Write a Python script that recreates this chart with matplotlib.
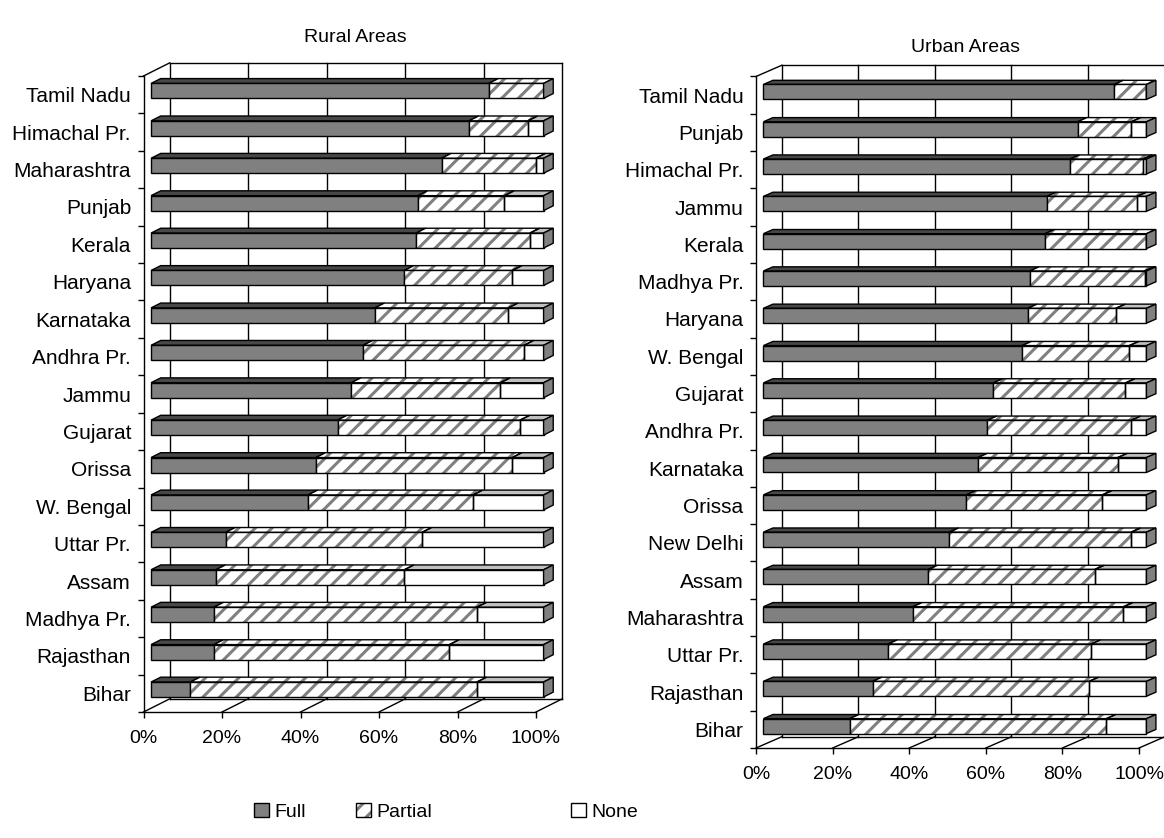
import numpy as np
import matplotlib
matplotlib.use('Agg')
import matplotlib.pyplot as plt
from matplotlib.patches import Polygon, Patch

plt.rcParams['font.family'] = ['Liberation Sans', 'DejaVu Sans']
plt.rcParams['hatch.linewidth'] = 2.2

#農村部
rural_states = ['Tamil Nadu', 'Himachal Pr.', 'Maharashtra', 'Punjab', 'Kerala',
                'Haryana', 'Karnataka', 'Andhra Pr.', 'Jammu', 'Gujarat', 'Orissa',
                'W. Bengal', 'Uttar Pr.', 'Assam', 'Madhya Pr.', 'Rajasthan', 'Bihar']
rural_full = [86, 81, 74, 68, 67.5, 64.5, 57, 54, 51, 47.5, 42, 40, 19, 16.5, 16, 16, 10]
rural_partial = [14, 15, 24, 22, 29, 27.5, 34, 41, 38, 46.5, 50, 42, 50, 48, 67, 60, 73]
rural_none = [0, 4, 2, 10, 3.5, 8, 9, 5, 11, 6, 8, 18, 31, 35.5, 17, 24, 17]

#都市部
urban_states = ['Tamil Nadu', 'Punjab', 'Himachal Pr.', 'Jammu', 'Kerala', 'Madhya Pr.',
                'Haryana', 'W. Bengal', 'Gujarat', 'Andhra Pr.', 'Karnataka', 'Orissa',
                'New Delhi', 'Assam', 'Maharashtra', 'Uttar Pr.', 'Rajasthan', 'Bihar']
urban_full = [91.5, 82, 80, 74, 73.5, 69.5, 69, 67.5, 60, 58.5, 56, 53, 48.5, 43, 39, 32.5, 28.5, 22.5]
urban_partial = [8.5, 14, 19, 23.5, 26.5, 30, 23, 28, 34.5, 37.5, 36.5, 35.5, 47.5, 43.5, 55, 53, 56.5, 67]
urban_none = [0, 4, 1, 2.5, 0, 0.5, 8, 4.5, 5.5, 4, 7.5, 11.5, 4, 13.5, 6, 14.5, 15, 10.5]

GRAY = '#808080'
HATCH = '//'
F, B, H = 0.29, 0.66, 0.4   # 棒の手前/奥の深さ比率, 棒の太さ


def face(ax, pts, **kw):
    ax.add_patch(Polygon(pts, closed=True, clip_on=False, **kw))


#擬似3D横棒グラフを描く
def draw_panel(ax, states, full, partial, none, dx, dy):
    n = len(states)
    ypos = np.arange(n)[::-1]
    ax.set_xlim(0, 100)
    ax.set_ylim(-0.5, n - 0.5)

    top = n - 0.5 + dy
    bot = -0.5 + dy
    lk = dict(color='black', lw=1, clip_on=False, zorder=1)
    for v in range(0, 101, 20):
        ax.plot([v + dx, v + dx], [bot, top], **lk)
        ax.plot([v, v + dx], [-0.5, bot], **lk)
    ax.plot([dx, 100 + dx], [top, top], **lk)
    ax.plot([dx, 100 + dx], [bot, bot], **lk)
    ax.plot([0, dx], [n - 0.5, top], **lk)

    segs = [(np.array(full, float), GRAY, '#484848', None),
            (np.array(partial, float), 'white', 'white', HATCH),
            (np.array(none, float), 'white', '#c0c0c0', None)]
    left = np.zeros(n)
    fx, fy = F * dx, F * dy
    bx, by = B * dx, B * dy
    for vals, fc, tc, hatch in segs:
        yc = ypos + fy
        for i in range(n):
            if vals[i] <= 0:
                continue
            x0, x1 = left[i] + fx, left[i] + vals[i] + fx
            yt = yc[i] + H / 2
            pts = [(x0, yt), (x1, yt), (x1 - fx + bx, yt - fy + by), (x0 - fx + bx, yt - fy + by)]
            if hatch:
                face(ax, pts, facecolor=tc, edgecolor=GRAY, lw=0, hatch=hatch, zorder=2)
                face(ax, pts, facecolor='none', edgecolor='black', lw=1, zorder=2.1)
            else:
                face(ax, pts, facecolor=tc, edgecolor='black', lw=1, zorder=2)
        if hatch:
            ax.barh(yc, vals, left=left + fx, height=H, color=fc, edgecolor=GRAY,
                    lw=0, hatch=hatch, clip_on=False, zorder=3)
            ax.barh(yc, vals, left=left + fx, height=H, color='none', edgecolor='black',
                    lw=1, clip_on=False, zorder=3.1)
        else:
            ax.barh(yc, vals, left=left + fx, height=H, color=fc, edgecolor='black',
                    lw=1, clip_on=False, zorder=3)
        left = left + vals

    #右側面
    for i in range(n):
        xr = left[i] + fx
        yb, yt = ypos[i] + fy - H / 2, ypos[i] + fy + H / 2
        face(ax, [(xr, yb), (xr, yt), (xr - fx + bx, yt - fy + by), (xr - fx + bx, yb - fy + by)],
             facecolor=GRAY, edgecolor='black', lw=1, zorder=3.2)

    for s in ['top', 'right']:
        ax.spines[s].set_visible(False)
    for s in ['left', 'bottom']:
        ax.spines[s].set_linewidth(1)
        ax.spines[s].set_zorder(1)
    ax.patch.set_visible(False)
    ax.set_xticks(range(0, 101, 20))
    ax.set_xticklabels(['%d%%' % v for v in range(0, 101, 20)])
    ax.set_yticks(np.arange(n + 1) - 0.5)
    ax.set_yticklabels([])
    ax.set_yticks(ypos, labels=states, minor=True)
    ax.tick_params(axis='y', which='major', length=4, width=1)
    ax.tick_params(axis='y', which='minor', length=0, pad=9, labelsize=15)
    ax.tick_params(axis='x', length=4, width=1, pad=9, labelsize=14)


fig = plt.figure(figsize=(11.64, 8.38), dpi=100)
W, Hf = 1164.0, 838.0
ax1 = fig.add_axes([143.5 / W, (Hf - 712) / Hf, 392.5 / W, (712 - 76) / Hf])
ax2 = fig.add_axes([756 / W, (Hf - 748) / Hf, 383 / W, (748 - 76.5) / Hf])

draw_panel(ax1, rural_states, rural_full, rural_partial, rural_none, 6.65, 0.35)
draw_panel(ax2, urban_states, urban_full, urban_partial, urban_none, 6.7, 0.3)

fig.text(355 / W, 1 - 37 / Hf, 'Rural Areas', ha='center', va='center', fontsize=14)
fig.text(965 / W, 1 - 47 / Hf, 'Urban Areas', ha='center', va='center', fontsize=14)

#凡例
h_full = Patch(facecolor=GRAY, edgecolor='black', lw=1)
h_part = (Patch(facecolor='white', edgecolor=GRAY, lw=0, hatch=HATCH),
          Patch(facecolor='none', edgecolor='black', lw=1))
h_none = Patch(facecolor='white', edgecolor='black', lw=1)
for h, lab, xp in [(h_full, 'Full', 254), (h_part, 'Partial', 356), (h_none, 'None', 571)]:
    fig.legend([h], [lab], loc='center left', bbox_to_anchor=(xp / W, 1 - 812 / Hf),
               frameon=False, handlelength=0.75, handleheight=0.75, handletextpad=0.3,
               borderpad=0, borderaxespad=0, fontsize=14)

fig.savefig('out.png', dpi=100)
